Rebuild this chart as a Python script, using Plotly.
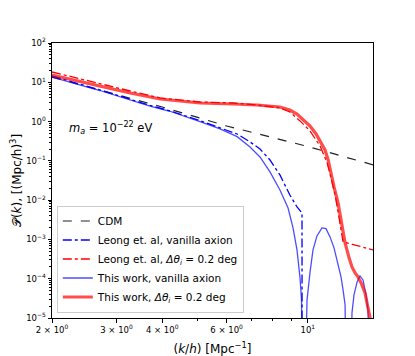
import plotly.graph_objects as go

# CDM (black dashed)
k_cdm = [2.0, 3.0, 4.0, 6.0, 10.0, 15.1]
p_cdm = [13.6, 4.9, 2.35, 0.773, 0.232, 0.0787]

# Leong et al, vanilla axion (blue dash-dot)
k_leong_van = [2.0, 2.705, 3.705, 4.20, 5.075, 5.754, 6.41, 6.95, 7.40, 7.88, 8.39, 8.93,
               9.34, 9.64, 9.645]
p_leong_van = [14.5, 6.37, 2.57, 1.88, 1.05, 0.708, 0.483, 0.303, 0.201, 0.1054, 0.0438, 0.01355,
               6.7e-3, 4.7e-3, 1e-9]

# Leong et al, dtheta = 0.2 deg (red dash-dot)
k_leong_dth = [2.0, 2.705, 3.27, 3.95, 5.075, 6.25, 7.26, 8.39, 8.93, 9.52, 10.14, 10.80,
               11.29, 11.57, 11.87, 12.17, 12.48, 13.46, 15.07]
p_leong_dth = [18.3, 9.05, 6.0, 3.99, 3.15, 2.97, 2.64, 2.22, 1.75, 1.04, 0.576, 0.239,
               0.0885, 0.0367, 0.01355, 3.5e-3, 8.6e-4, 7.2e-4, 5.4e-4]

# This work, vanilla axion (blue solid)
k_this_van = [2.0, 2.705, 3.705, 4.20, 5.075, 5.754, 6.41, 6.95, 7.40, 7.88, 8.39,
              8.83, 9.11, 9.34, 9.52, 9.61, 9.70,
              9.74, 9.95, 10.14, 10.33, 10.59, 10.93, 11.21, 11.5, 11.79, 12.09, 12.32,
              12.48, 12.64, 12.79,
              13.04, 13.2, 13.37, 13.63, 13.88, 14.15, 14.42, 14.60, 14.79]
p_this_van = [13.6, 6.18, 2.49, 1.83, 1.0, 0.648, 0.413, 0.226, 0.1257, 0.0522, 0.0182,
              6.3e-3, 1.96e-3, 5.4e-4, 1.05e-4, 2.9e-5, 1e-9,
              1e-9, 2.9e-5, 1.49e-4, 5.4e-4, 1.23e-3, 1.96e-3, 1.88e-3, 1.16e-3, 6.1e-4, 2.5e-4, 1.11e-4,
              5.2e-5, 2.15e-5, 1e-9,
              1e-9, 1.35e-5, 3.9e-5, 8.3e-5, 1.18e-4, 9.3e-5, 3.9e-5, 1.6e-5, 1e-9]

# This work, dtheta = 0.2 deg (red thick)
k_this_dth = [2.0, 2.705, 3.27, 3.95, 5.075, 6.25, 7.26, 8.39, 8.93, 9.34, 9.70, 10.14,
              10.53, 10.86, 11.14, 11.36, 11.50, 11.79, 12.09, 12.40, 12.64, 12.96, 13.20,
              13.46, 13.71, 13.98, 14.33, 14.51, 14.69, 14.88]
p_this_dth = [15.3, 8.05, 5.34, 3.76, 2.97, 2.80, 2.64, 2.35, 1.97, 1.56, 1.16, 0.773,
              0.483, 0.303, 0.189, 0.105, 0.0586, 0.0217, 8.5e-3, 2.34e-3, 8.1e-4, 3.4e-4, 2.0e-4,
              1.41e-4, 1.11e-4, 7.8e-5, 4.35e-5, 2.42e-5, 1.35e-5, 7.5e-6]

x_ticks = [2, 3, 4, 6, 10]
x_text = ["2 × 10<sup>0</sup>", "3 × 10<sup>0</sup>", "4 × 10<sup>0</sup>",
          "6 × 10<sup>0</sup>", "10<sup>1</sup>"]
y_ticks = [1e2, 1e1, 1e0, 1e-1, 1e-2, 1e-3, 1e-4, 1e-5]
y_text = ["10<sup>2</sup>", "10<sup>1</sup>", "10<sup>0</sup>", "10<sup>−1</sup>",
          "10<sup>−2</sup>", "10<sup>−3</sup>", "10<sup>−4</sup>", "10<sup>−5</sup>"]

fig = go.Figure()
fig.add_trace(go.Scatter(x=k_cdm, y=p_cdm, mode="lines", name="CDM",
                         line=dict(color="#222222", width=1.2, dash="dash")))
fig.add_trace(go.Scatter(x=k_leong_van, y=p_leong_van, mode="lines",
                         name="Leong et. al, vanilla axion",
                         line=dict(color="blue", width=1.3, dash="dashdot")))
fig.add_trace(go.Scatter(x=k_leong_dth, y=p_leong_dth, mode="lines",
                         name="Leong et. al, <i>Δθ<sub>i</sub></i> = 0.2 deg",
                         line=dict(color="red", width=1.3, dash="dashdot")))
fig.add_trace(go.Scatter(x=k_this_van, y=p_this_van, mode="lines",
                         name="This work, vanilla axion",
                         line=dict(color="rgba(0,0,255,0.7)", width=1.3)))
fig.add_trace(go.Scatter(x=k_this_dth, y=p_this_dth, mode="lines",
                         name="This work, <i>Δθ<sub>i</sub></i> = 0.2 deg",
                         line=dict(color="rgba(255,0,0,0.7)", width=3.2)))

fig.add_annotation(x=0.047, y=0.69, xref="paper", yref="paper", showarrow=False,
                   xanchor="left", yanchor="middle",
                   text="<i>m<sub>a</sub></i> = 10<sup>−22</sup> eV",
                   font=dict(size=11.5, color="black"))

axis_common = dict(showgrid=False, zeroline=False, showline=True, linecolor="black",
                   linewidth=1, mirror=True, ticks="outside", ticklen=3.5,
                   tickcolor="black", tickfont=dict(size=8.5, color="black"),
                   automargin=False)
fig.update_xaxes(type="log", range=[0.30103, 1.178], tickvals=x_ticks, ticktext=x_text,
                 title=dict(text="(<i>k</i>/<i>h</i>) [Mpc<sup>−1</sup>]", font=dict(size=12, color="black")),
                 minor=dict(tickvals=[5, 7, 8, 9], ticks="outside", ticklen=2, tickcolor="black"),
                 **axis_common)
minor_y = [m * 10 ** e for e in range(-5, 2) for m in range(2, 10)]
fig.update_yaxes(type="log", range=[-5, 2], tickvals=y_ticks, ticktext=y_text,
                 title=dict(text="𝒫(<i>k</i>), [(Mpc/h)<sup>3</sup>]", font=dict(size=12, color="black")),
                 minor=dict(tickvals=minor_y, ticks="outside", ticklen=2, tickcolor="black"),
                 **axis_common)

# the page body adds an 8px offset at top/left, so the figure is 8px smaller than the window
fig.update_layout(
    width=407, height=348,
    margin=dict(l=44, r=42, t=35, b=38),
    paper_bgcolor="white", plot_bgcolor="white",
    font=dict(family="DejaVu Sans", color="black"),
    showlegend=True,
    legend=dict(x=0.015, y=0.02, xanchor="left", yanchor="bottom",
                bgcolor="rgba(255,255,255,0.8)", bordercolor="#cccccc", borderwidth=1,
                font=dict(size=10.5), tracegroupgap=0, itemwidth=30),
)

fig.write_html("out.html")
